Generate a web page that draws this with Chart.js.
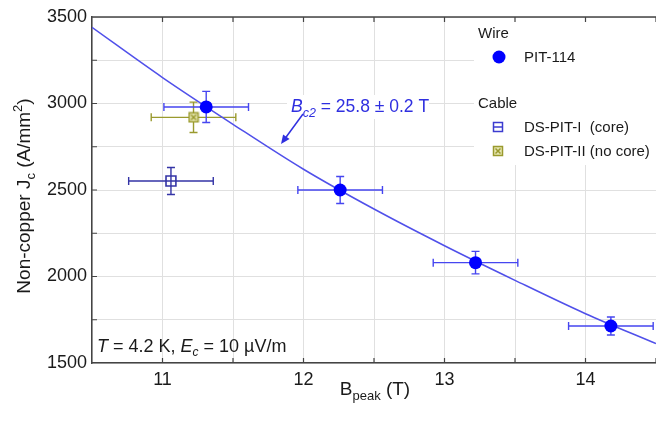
<!DOCTYPE html>
<html lang="en">
<head>
<meta charset="UTF-8">
<title>Non-copper Jc vs Bpeak</title>
<script src="https://cdn.jsdelivr.net/npm/chart.js"></script>
<style>
  html, body { margin: 0; padding: 0; background: #fff; }
  #wrap { width: 656px; height: 421px; }
</style>
</head>
<body>
<div id="wrap"><canvas id="chart" width="656" height="421"></canvas></div>
<script>
// wire PIT-114
const pitB = [11.31, 12.26, 13.22, 14.18];
const pitJ = [2980, 2500, 2080, 1714];
const pitBErr = [0.30, 0.30, 0.30, 0.30];
const pitJErr = [90, 78, 65, 52];

// cable DS-PIT-I (core)
const dsIB = [11.06];
const dsIJ = [2552];
const dsIBErr = [0.30];
const dsIJErr = [78];

// cable DS-PIT-II (no core)
const dsIIB = [11.22];
const dsIIJ = [2920];
const dsIIBErr = [0.30];
const dsIIJErr = [88];

// fitted curve (Bc2 = 25.8 T)
const fitB = [10.5, 11, 11.5, 12, 12.5, 13, 13.5, 14, 14.5];
const fitJ = [3440, 3150, 2880, 2620, 2390, 2178, 1978, 1785, 1612];

// tick labels
const xTickLabels = [11, 12, 13, 14];
const yTickLabels = [1500, 2000, 2500, 3000, 3500];

const FONT = "'Liberation Sans', Arial, sans-serif";
const BLUE = '#0000ff';
const BLUE_BAR = '#4646f0';
const NAVY = '#3434a6';
const OLIVE = '#9a9a2e';

function pts(xs, ys) {
  return xs.map((x, i) => ({ x: x, y: ys[i] }));
}

// square with a cross, used for DS-PIT-II
function boxX() {
  const c = document.createElement('canvas');
  c.width = 12; c.height = 12;
  const g = c.getContext('2d');
  g.fillStyle = '#e6e6b0';
  g.fillRect(1.5, 1.5, 9, 9);
  g.strokeStyle = OLIVE;
  g.lineWidth = 1.5;
  g.strokeRect(1.5, 1.5, 9, 9);
  g.beginPath();
  g.moveTo(3.5, 3.5); g.lineTo(8.5, 8.5);
  g.moveTo(8.5, 3.5); g.lineTo(3.5, 8.5);
  g.stroke();
  return c;
}
const boxXImg = boxX();

// draws text made of pieces: [text, size, style, dy]
function richText(ctx, parts, x, y, align) {
  let w = 0;
  parts.forEach(p => {
    ctx.font = (p[2] || '') + ' ' + p[1] + 'px ' + FONT;
    w += ctx.measureText(p[0]).width;
  });
  let cx = align === 'center' ? x - w / 2 : x;
  ctx.textAlign = 'left';
  ctx.textBaseline = 'alphabetic';
  parts.forEach(p => {
    ctx.font = (p[2] || '') + ' ' + p[1] + 'px ' + FONT;
    ctx.fillText(p[0], cx, y + (p[3] || 0));
    cx += ctx.measureText(p[0]).width;
  });
  return w;
}

function errorBars(ctx, sx, sy, xs, ys, xe, ye, color) {
  ctx.strokeStyle = color;
  ctx.lineWidth = 1.4;
  const cap = 4;
  for (let i = 0; i < xs.length; i++) {
    const px = sx.getPixelForValue(xs[i]);
    const py = sy.getPixelForValue(ys[i]);
    const x0 = sx.getPixelForValue(xs[i] - xe[i]);
    const x1 = sx.getPixelForValue(xs[i] + xe[i]);
    const y0 = sy.getPixelForValue(ys[i] - ye[i]);
    const y1 = sy.getPixelForValue(ys[i] + ye[i]);
    ctx.beginPath();
    ctx.moveTo(x0, py); ctx.lineTo(x1, py);
    ctx.moveTo(x0, py - cap); ctx.lineTo(x0, py + cap);
    ctx.moveTo(x1, py - cap); ctx.lineTo(x1, py + cap);
    ctx.moveTo(px, y0); ctx.lineTo(px, y1);
    ctx.moveTo(px - cap, y0); ctx.lineTo(px + cap, y0);
    ctx.moveTo(px - cap, y1); ctx.lineTo(px + cap, y1);
    ctx.stroke();
  }
}

const decor = {
  id: 'decor',
  beforeDatasetsDraw(chart) {
    const ctx = chart.ctx;
    const a = chart.chartArea;
    const sx = chart.scales.x, sy = chart.scales.y;
    ctx.save();
    // white boxes under the annotation and the legend
    ctx.fillStyle = '#fff';
    ctx.fillRect(287, 95, 142, 24);
    ctx.fillRect(474, a.top + 1, a.right - 474, 147);
    ctx.beginPath();
    ctx.rect(a.left, a.top, a.right - a.left, a.bottom - a.top);
    ctx.clip();
    errorBars(ctx, sx, sy, dsIB, dsIJ, dsIBErr, dsIJErr, NAVY);
    errorBars(ctx, sx, sy, dsIIB, dsIIJ, dsIIBErr, dsIIJErr, OLIVE);
    errorBars(ctx, sx, sy, pitB, pitJ, pitBErr, pitJErr, BLUE_BAR);
    ctx.restore();
  },
  afterDraw(chart) {
    const ctx = chart.ctx;
    const a = chart.chartArea;
    const sx = chart.scales.x, sy = chart.scales.y;
    ctx.save();
    // top frame line
    ctx.strokeStyle = '#444';
    ctx.lineWidth = 1.5;
    ctx.beginPath();
    ctx.moveTo(a.left, a.top); ctx.lineTo(a.right, a.top);
    ctx.stroke();
    // inward ticks
    ctx.lineWidth = 1.2;
    ctx.beginPath();
    for (let v = 11; v <= 14.5; v += 0.5) {
      const px = sx.getPixelForValue(v);
      ctx.moveTo(px, a.bottom); ctx.lineTo(px, a.bottom - 5);
      ctx.moveTo(px, a.top); ctx.lineTo(px, a.top + 5);
    }
    for (let v = 1750; v < 3500; v += 250) {
      const py = sy.getPixelForValue(v);
      ctx.moveTo(a.left, py); ctx.lineTo(a.left + 5, py);
    }
    ctx.stroke();

    // annotation Bc2
    ctx.fillStyle = '#2f2fe0';
    richText(ctx, [
      ['B', 17.5, 'italic', 0],
      ['c2', 12.5, 'italic', 5],
      [' = 25.8 \u00b1 0.2 T', 17.5, '', 0]
    ], 291, 112, 'left');
    // arrow
    ctx.strokeStyle = '#2f2fe0';
    ctx.lineWidth = 1.5;
    const tx = 303, ty = 114, hx = 281, hy = 144;
    const ang = Math.atan2(hy - ty, hx - tx);
    ctx.beginPath();
    ctx.moveTo(tx, ty); ctx.lineTo(hx - 5 * Math.cos(ang), hy - 5 * Math.sin(ang));
    ctx.stroke();
    ctx.beginPath();
    ctx.moveTo(hx, hy);
    ctx.lineTo(hx - 9 * Math.cos(ang) + 4 * Math.sin(ang), hy - 9 * Math.sin(ang) - 4 * Math.cos(ang));
    ctx.lineTo(hx - 9 * Math.cos(ang) - 4 * Math.sin(ang), hy - 9 * Math.sin(ang) + 4 * Math.cos(ang));
    ctx.closePath();
    ctx.fillStyle = '#2f2fe0';
    ctx.fill();

    // conditions
    ctx.fillStyle = '#1a1a1a';
    richText(ctx, [
      ['T', 18, 'italic', 0],
      [' = 4.2 K, ', 18, '', 0],
      ['E', 18, 'italic', 0],
      ['c', 12, 'italic', 4],
      [' = 10 \u00b5V/m', 18, '', 0]
    ], 97, 352, 'left');

    // legend
    ctx.fillStyle = '#1a1a1a';
    ctx.font = '15px ' + FONT;
    ctx.textAlign = 'left';
    ctx.textBaseline = 'middle';
    ctx.fillText('Wire', 478, 34);
    ctx.fillText('PIT-114', 524, 58);
    ctx.fillText('Cable', 478, 104);
    ctx.fillText('DS-PIT-I  (core)', 524, 128);
    ctx.fillText('DS-PIT-II (no core)', 524, 152);
    ctx.beginPath();
    ctx.arc(499, 57, 6.5, 0, Math.PI * 2);
    ctx.fillStyle = BLUE;
    ctx.fill();
    ctx.strokeStyle = '#3c3cd0';
    ctx.lineWidth = 1.5;
    ctx.strokeRect(493.5, 122.5, 9, 9);
    ctx.beginPath();
    ctx.moveTo(493.5, 127); ctx.lineTo(502.5, 127);
    ctx.stroke();
    ctx.drawImage(boxXImg, 492, 145);

    // axis titles
    ctx.fillStyle = '#1a1a1a';
    richText(ctx, [
      ['B', 19, '', 0],
      ['peak', 13, '', 5],
      [' (T)', 19, '', 0]
    ], 375, 395, 'center');
    ctx.translate(30, 196);
    ctx.rotate(-Math.PI / 2);
    richText(ctx, [
      ['Non-copper J', 19, '', 0],
      ['c', 13, '', 5],
      [' (A/mm', 19, '', 0],
      ['2', 13, '', -8],
      [')', 19, '', 0]
    ], 0, 0, 'center');
    ctx.restore();
  }
};

new Chart(document.getElementById('chart'), {
  type: 'scatter',
  data: {
    datasets: [
      {
        label: 'PIT-114',
        data: pts(pitB, pitJ),
        pointStyle: 'circle',
        pointRadius: 6.5,
        backgroundColor: BLUE,
        borderColor: BLUE,
        borderWidth: 0,
        order: 1
      },
      {
        label: 'DS-PIT-I (core)',
        data: pts(dsIB, dsIJ),
        pointStyle: 'rect',
        pointRadius: 7,
        backgroundColor: 'rgba(0,0,0,0)',
        borderColor: NAVY,
        borderWidth: 1.6,
        order: 2
      },
      {
        label: 'DS-PIT-II (no core)',
        data: pts(dsIIB, dsIIJ),
        pointStyle: boxXImg,
        order: 3
      },
      {
        label: 'fit',
        data: pts(fitB, fitJ),
        showLine: true,
        pointRadius: 0,
        borderColor: '#5050ea',
        borderWidth: 1.5,
        cubicInterpolationMode: 'monotone',
        order: 10
      }
    ]
  },
  options: {
    responsive: false,
    animation: false,
    layout: { autoPadding: false, padding: { top: 17, right: 0, left: 0, bottom: 0 } },
    plugins: { legend: { display: false }, tooltip: { enabled: false } },
    scales: {
      x: {
        type: 'linear',
        min: 10.5,
        max: 14.5,
        afterFit(s) { s.height = 58; s.paddingLeft = 0; s.paddingRight = 0; },
        ticks: {
          stepSize: 0.5,
          padding: 6,
          color: '#1a1a1a',
          font: { family: FONT, size: 18 },
          maxRotation: 0,
          autoSkip: false,
          callback: v => xTickLabels.includes(v) ? String(v) : ''
        },
        grid: { color: '#e0e0e0', lineWidth: 1, drawTicks: false },
        border: { display: true, color: '#444', width: 1.5 }
      },
      y: {
        type: 'linear',
        min: 1500,
        max: 3500,
        afterFit(s) { s.width = 92; s.paddingTop = 0; s.paddingBottom = 0; },
        ticks: {
          stepSize: 250,
          padding: 5,
          color: '#1a1a1a',
          font: { family: FONT, size: 18 },
          autoSkip: false,
          callback: v => yTickLabels.includes(v) ? String(v) : ''
        },
        grid: { color: '#e0e0e0', lineWidth: 1, drawTicks: false },
        border: { display: true, color: '#444', width: 1.5 }
      }
    }
  },
  plugins: [decor]
});
</script>
</body>
</html>
